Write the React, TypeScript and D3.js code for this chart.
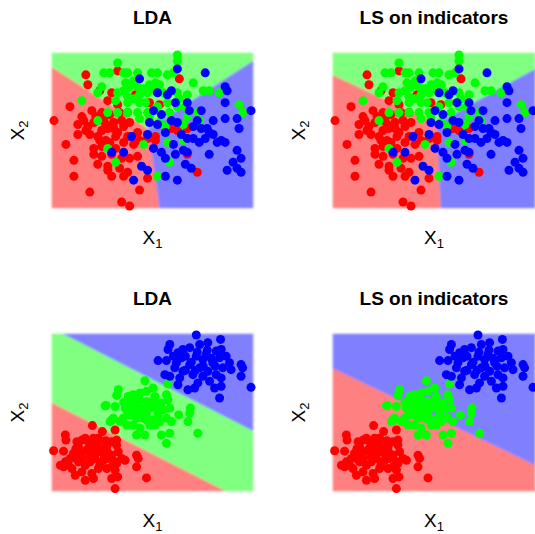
import React from "react";
import * as d3 from "d3";

type Pt = [number, number];
type Coef = [number, number, number]; // score = a*x + b*y + c

const W = 535;
const H = 534;

// three overlapping classes (top row)
const topRed: Pt[] = [
  [1, 44], [17, 67], [18, 62], [33, 69], [24, 59], [30, 58], [28, 54], [33, 52], [42, 57], [9, 51],
  [15, 46], [20, 49], [25, 48], [29, 47], [38, 48], [13, 42], [18, 41], [16, 44], [21, 43], [26, 44],
  [31, 43], [35, 44], [39, 43], [13, 37], [19, 37], [25, 39], [28, 40], [33, 38], [27, 34], [32, 36],
  [38, 36], [43, 38], [7, 32], [21, 30], [25, 31], [29, 33], [36, 33], [41, 32], [44, 34], [48, 35],
  [52, 34], [21, 27], [25, 26], [30, 27], [35, 25], [39, 25], [43, 26], [11, 24], [23, 22], [28, 21],
  [34, 20], [38, 18], [11, 16], [30, 16], [36, 16], [48, 15], [44, 9], [19, 8], [35, 3], [39, 1],
  [64, 65], [49, 53], [54, 52], [60, 40], [68, 40], [63, 39], [52, 36], [73, 18], [68, 27], [32, 30],
  [28, 19], [23, 36], [34, 48], [22, 46], [27, 42], [17, 39], [31, 40], [36, 41], [24, 34],
];
const topGreen: Pt[] = [
  [63, 77], [63, 74], [33, 73], [26, 68], [29, 68], [36, 68], [38, 68], [43, 68], [50, 68], [53, 68],
  [58, 67], [61, 68], [52, 63], [49, 62], [37, 63], [39, 61], [36, 59], [43, 61], [23, 58], [25, 61],
  [33, 58], [38, 56], [44, 57], [48, 58], [52, 59], [56, 58], [63, 58], [64, 55], [68, 57], [71, 63],
  [76, 59], [79, 59], [84, 58], [32, 54], [38, 53], [44, 53], [47, 53], [58, 53], [63, 51], [67, 51],
  [15, 54], [23, 44], [33, 48], [38, 48], [43, 48], [44, 45], [48, 48], [53, 51], [49, 46], [54, 43],
  [59, 48], [68, 46], [73, 48], [74, 44], [94, 52], [96, 48], [46, 32], [58, 33], [59, 23], [66, 34],
  [53, 16], [28, 30], [32, 23], [57, 41], [66, 42], [28, 48], [54, 62], [41, 64], [46, 60], [41, 55],
];
const topBlue: Pt[] = [
  [44, 65], [63, 70], [77, 68], [53, 58], [60, 59], [62, 53], [68, 53], [69, 49], [75, 49], [81, 44],
  [87, 45], [87, 53], [88, 59], [87, 61], [100, 49], [93, 45], [94, 40], [73, 44], [78, 40], [81, 37],
  [85, 34], [87, 33], [93, 29], [95, 25], [91, 23], [93, 20], [95, 18], [88, 19], [79, 27], [74, 33],
  [71, 35], [66, 29], [68, 28], [61, 32], [55, 28], [51, 30], [57, 25], [62, 27], [67, 22], [70, 20],
  [63, 14], [57, 16], [45, 21], [48, 19], [41, 14], [40, 36], [36, 28], [30, 28], [51, 49], [55, 47],
  [60, 44], [53, 42], [57, 38], [63, 43], [48, 37], [49, 43], [83, 33], [79, 38], [58, 57], [68, 35],
  [75, 40], [71, 41], [77, 35], [65, 37],
];

// three separated classes (bottom row)
const bottomRed: Pt[] = [
  [0.8, 20], [5.8, 19.8], [6.7, 27.8], [7, 25.3], [12.5, 24.5], [13.3, 22], [10.8, 18.7], [11.7, 16.2],
  [15, 25.3], [16.7, 26.2], [18.3, 24.5], [20, 22], [20.8, 26.2], [23.3, 26.2], [25.3, 29.5], [27.5, 22],
  [30, 24.5], [32.5, 25.3], [31.7, 30.3], [32.5, 22.8], [33.3, 19.5], [30, 17.8], [28.3, 16.2], [25.8, 18.7],
  [23.3, 19.5], [21.7, 16.2], [19.2, 14.5], [16.7, 12.8], [15, 16.2], [13.3, 14.5], [8.3, 12.8], [4.2, 12.8],
  [5.8, 12], [10, 11.2], [11.7, 7.8], [15, 9.5], [16.7, 5.3], [20, 8.7], [20.8, 6.2], [23.3, 11.2],
  [27.5, 11.2], [30, 12], [31.7, 10.3], [32.5, 13.7], [36.7, 15.3], [42.5, 17.8], [43.3, 16.2], [42.5, 12],
  [47.5, 6.5], [30, 6.2], [33, 7], [31.7, 1.2], [18.3, 21.2], [23.3, 22.8], [25.8, 15.3], [31.7, 14.5],
  [35, 16.2], [9.2, 16.2], [6.7, 14.5], [20.3, 32.5], [17, 20], [21, 19], [25, 21], [27, 25],
  [14, 19], [19, 17], [24, 13], [28, 19], [22, 24], [12, 21],
];
const bottomGreen: Pt[] = [
  [33.3, 50.3], [32.5, 47.5], [27.2, 42.5], [31.7, 42], [58.3, 53.2], [38.3, 47], [40.8, 47.8], [44.2, 48.7],
  [47.5, 49.5], [50.8, 51.2], [51.7, 47], [57.5, 47.8], [58.3, 45.3], [59.2, 41.2], [36.7, 41.2], [37.5, 44.5],
  [40, 42.8], [42.5, 42], [47.5, 44.5], [49.2, 41.2], [52.5, 42], [55, 43.7], [55.8, 40.3], [47.5, 38.7],
  [45.8, 36.2], [42.5, 36.2], [39.2, 37.8], [35.8, 36.2], [30.8, 36.2], [29.2, 34.5], [34.2, 34.5], [37.5, 32.8],
  [40.8, 32.8], [44.2, 31.2], [42.5, 27.8], [46.7, 27.8], [49.2, 32.8], [51.7, 32.8], [54.2, 34.5], [57.5, 36.2],
  [60, 34.5], [55, 27.8], [59.2, 28.7], [57.5, 23.7], [63.7, 37.8], [68.3, 34.5], [69.5, 41.2], [69.2, 38.7],
  [73.3, 28.7], [50, 35.3], [53.3, 37.8], [46.7, 54.8], [26.7, 42.3], [30, 35.3], [40, 45], [44, 45],
  [46, 41], [41, 39], [51, 45], [53, 40], [44, 38], [38, 39], [48, 35], [36, 44],
];
const bottomBlue: Pt[] = [
  [72.5, 77.5], [84.7, 75.3], [59.2, 72.8], [58.3, 70.3], [53.3, 64.8], [57.5, 64.8], [63.3, 68.7], [65.8, 70.3],
  [69.2, 71.2], [74.2, 72.8], [78.3, 73.7], [82.5, 69.5], [85, 70.3], [87.5, 67], [84.2, 66.2], [80.8, 63.7],
  [75.8, 65.3], [72.5, 67], [65, 66.2], [62.5, 63.7], [61.7, 61.2], [65.8, 59.5], [56.7, 57.8], [59.2, 57],
  [64.2, 56.2], [70.8, 57.8], [74.2, 61.2], [78.3, 59.5], [82.5, 57.8], [85.8, 61.2], [85, 56.2], [90, 60.3],
  [95, 62.8], [95.8, 61.2], [95, 57], [100, 51.5], [81.7, 51.2], [85, 52], [84.2, 46.2], [73.3, 53.7],
  [71.7, 51.2], [68.3, 50.3], [63.3, 52.8], [69.2, 62.8], [77.5, 67.8], [89.2, 63.7], [79.2, 54.5], [75.8, 57],
  [67, 67], [70, 64], [73, 69], [76, 62], [80, 66], [67, 60], [72, 60], [78, 70], [82, 62], [61, 67],
];

// linear class scores [red, green, blue]
const ldaTop: Coef[] = [[0, 0, 0], [0.64, 1, -71], [1.18, 0.166, -63.9]];
const lsTop: Coef[] = [[0, 0, 0], [0.47, 1, -67], [1, 0.048, -54]];
const ldaBottom: Coef[] = [[0, 0, 0], [0.503, 1, -44], [1.008, 2, -125]];
const lsBottom: Coef[] = [[0, 0, 0], [0, 0, -5], [0.475, 1, -61]];

const xDomain: Pt = [0, 101];
const yDomain: Pt = [0, 78];

const regionColors = ["#ff8080", "#80ff80", "#8080ff"];
const pointColors = ["#ff0000", "#00ff00", "#0000ff"];

const FONT = "'Liberation Sans', Arial, Helvetica, sans-serif";

function clipHalf(poly: Pt[], a: number, b: number, c: number): Pt[] {
  const out: Pt[] = [];
  for (let i = 0; i < poly.length; i++) {
    const p = poly[i];
    const q = poly[(i + 1) % poly.length];
    const fp = a * p[0] + b * p[1] + c;
    const fq = a * q[0] + b * q[1] + c;
    if (fp >= 0) out.push(p);
    if (fp >= 0 !== fq >= 0) {
      const t = fp / (fp - fq);
      out.push([p[0] + t * (q[0] - p[0]), p[1] + t * (q[1] - p[1])]);
    }
  }
  return out;
}

function regions(coef: Coef[]): Pt[][] {
  const rect: Pt[] = [
    [xDomain[0], yDomain[0]], [xDomain[1], yDomain[0]],
    [xDomain[1], yDomain[1]], [xDomain[0], yDomain[1]],
  ];
  return coef.map((ck, k) => {
    let poly = rect;
    coef.forEach((cj, j) => {
      if (j === k || poly.length === 0) return;
      poly = clipHalf(poly, ck[0] - cj[0], ck[1] - cj[1], ck[2] - cj[2]);
    });
    return poly;
  });
}

function Panel(props: {
  title: string; coef: Coef[]; classes: Pt[][];
  left: number; right: number; top: number; bottom: number;
}) {
  const { title, coef, classes, left, right, top, bottom } = props;
  const x = d3.scaleLinear().domain(xDomain).range([left, right]);
  const y = d3.scaleLinear().domain(yDomain).range([bottom, top]);
  const line = d3.line<Pt>().x(d => x(d[0])).y(d => y(d[1]));
  const cx = (left + right) / 2;
  const cy = (top + bottom) / 2;

  return (
    <g>
      <g filter="url(#soft)">
        {regions(coef).map((poly, i) =>
          poly.length > 2 ? <path key={i} d={line(poly) + "Z"} fill={regionColors[i]} stroke={regionColors[i]} strokeWidth={0.5} /> : null
        )}
      </g>
      {classes.map((pts, i) => (
        <g key={i} fill={pointColors[i]}>
          {pts.map((d, j) => <circle key={j} cx={x(d[0])} cy={y(d[1])} r={4.5} />)}
        </g>
      ))}
      <text x={cx} y={top - 29} textAnchor="middle" fontFamily={FONT} fontWeight="bold" fontSize={19}>{title}</text>
      <text x={cx} y={bottom + 36} textAnchor="middle" fontFamily={FONT} fontSize={19}>
        X<tspan fontSize={13} dy={4}>1</tspan>
      </text>
      <text transform={`translate(${left - 28},${cy}) rotate(-90)`} textAnchor="middle" fontFamily={FONT} fontSize={19}>
        X<tspan fontSize={13} dy={4}>2</tspan>
      </text>
    </g>
  );
}

export default function App() {
  const topClasses = [topRed, topGreen, topBlue];
  const bottomClasses = [bottomRed, bottomGreen, bottomBlue];
  return (
    <div style={{ position: "fixed", left: 0, top: 0 }}>
      <svg width={W} height={H} style={{ display: "block", background: "#fff" }}>
        <defs>
          <filter id="soft" x="-5%" y="-5%" width="110%" height="110%">
            <feGaussianBlur stdDeviation={1} />
          </filter>
        </defs>
        <Panel title="LDA" coef={ldaTop} classes={topClasses} left={52} right={253} top={53} bottom={208} />
        <Panel title="LS on indicators" coef={lsTop} classes={topClasses} left={333} right={535} top={53} bottom={208} />
        <Panel title="LDA" coef={ldaBottom} classes={bottomClasses} left={52} right={253} top={334} bottom={491} />
        <Panel title="LS on indicators" coef={lsBottom} classes={bottomClasses} left={333} right={535} top={334} bottom={491} />
      </svg>
    </div>
  );
}
